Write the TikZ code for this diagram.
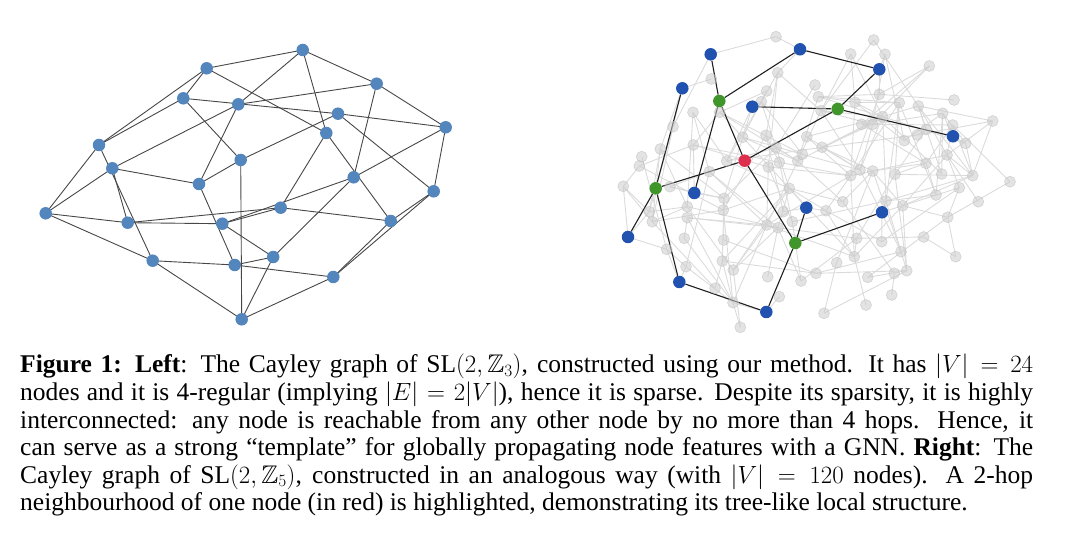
\documentclass[tikz,border=0pt]{standalone}
\usepackage{amsmath,amssymb}
\usepackage{fontspec}
\setmainfont{Liberation Serif}
\usetikzlibrary{backgrounds}

\definecolor{lblue}{RGB}{84,134,190}
\definecolor{hopblue}{RGB}{33,82,176}
\definecolor{hopgreen}{RGB}{64,150,42}
\definecolor{hopred}{RGB}{222,48,78}

\begin{document}
\begin{tikzpicture}[x=1pt,y=-1pt,
  lnode/.style={circle,fill=lblue,inner sep=0pt,minimum size=12.5pt},
  ledge/.style={black!72,line width=0.9pt},
  gnode/.style={circle,fill=black!20,fill opacity=0.55,draw=black!25,draw opacity=0.6,line width=0.6pt,inner sep=0pt,minimum size=11pt},
  gedge/.style={black!14,line width=0.9pt},
  hnode/.style={circle,fill=#1,inner sep=0pt,minimum size=12.5pt},
  hedge/.style={black!88,line width=1.1pt}]
\useasboundingbox (0,0) rectangle (1080,540);

% left: Cayley graph of SL(2,Z_3)
\node[lnode] (A) at (206.7,68.3) {};
\node[lnode] (B) at (183.3,98.3) {};
\node[lnode] (C) at (238.3,104.3) {};
\node[lnode] (D) at (99,145) {};
\node[lnode] (E) at (240.7,160) {};
\node[lnode] (F) at (112.3,168.3) {};
\node[lnode] (G) at (199,184) {};
\node[lnode] (H) at (45.7,213.3) {};
\node[lnode] (I) at (127.7,222.7) {};
\node[lnode] (J) at (222.3,223.7) {};
\node[lnode] (K) at (280.7,207.7) {};
\node[lnode] (L) at (152.7,260.7) {};
\node[lnode] (M) at (234.7,265) {};
\node[lnode] (N) at (273.2,257) {};
\node[lnode] (O) at (241.7,319.3) {};
\node[lnode] (P) at (302.7,50) {};
\node[lnode] (Q) at (376.7,83.7) {};
\node[lnode] (R) at (338,113.7) {};
\node[lnode] (S) at (445.7,127.3) {};
\node[lnode] (T) at (326.3,133) {};
\node[lnode] (U) at (353.7,177.3) {};
\node[lnode] (V) at (433.7,191.3) {};
\node[lnode] (W) at (390.7,221) {};
\node[lnode] (X) at (333.3,277) {};
\begin{scope}[on background layer]
\foreach \a/\b in {A/P,A/B,A/D,A/T,B/D,B/E,B/R,C/P,C/Q,C/G,C/F,D/H,D/L,
  E/R,E/G,E/O,F/H,F/G,F/I,G/M,H/I,H/L,I/J,I/K,J/K,J/N,J/U,K/T,K/W,
  L/M,L/O,M/N,M/X,N/O,N/U,O/X,P/Q,P/T,Q/S,Q/U,R/S,R/V,S/V,S/U,T/W,
  V/W,V/X,W/X}
  \draw[ledge] (\a.center) -- (\b.center);
\end{scope}

% right: SL(2,Z_5), 2-hop neighbourhood
\foreach \x/\y [count=\k] in {776/36.7,711.3/79,777.7/72.7,766.7/91,761.3/101.7,815/85,818.3/96.7,693/112.3,719.7/112.3,673/126.7,
  742.7/137.3,766/135.3,693.3/145,660.3/149,641.7/156.7,639.3/166,726.7/161,709.3/171.7,768.3/167,779.3/162.3,
  797.7/161,802.3/154.3,806.7/136.7,623.3/186.3,670/186.7,789.3/188.3,724/198.3,687.3/206.7,649.3/211.7,652.3/221.7,
  687.3/217.7,723.3/210,783.3/211.7,792.3/221.7,766.7/225,778/227.7,684.3/238.3,723.7/240,666.7/249.3,686/266.7,
  722.3/261,733.3/270,767.7/276.7,801/281,816/273.3,715/288.3,779.3/296.7,733/302.7,740.3/327.3,873.7/40,
  850.7/54,885/54.3,929.3/66,879.3/94.3,899.3/102.7,918.3/106,954/100,855/102.3,942.7/113.3,882.7/116.7,
  861.7/124.3,872.7/124.3,992.7/121,952.7/125,822/147.3,904.3/140.7,917.3/135,926/129.5,965.7/143.3,947/155,
  926/163.3,860/170,850.7/175.7,872.7/171,895/174.3,941.7/174,972.7/175.7,1010/181.7,959.3/187.7,936/195,
  842.7/201.7,826/210.7,886/201,902.7/205.7,978.3/201.7,947.7/217.3,856.7/238.3,881.7/241.7,923.7/237,901/251.7,
  854.3/256.7,955.7/256.7,836.7/262.7,867.7/277.3,894.3/273.3,906.7/270.7,891.7/295,866/305,824/313.3,821/110.7,
  776/147.7}{
  \node[gnode] (g\k) at (\x,\y) {};
  \expandafter\xdef\csname gx\k\endcsname{\x}
  \expandafter\xdef\csname gy\k\endcsname{\y}
}
\node[hnode=hopred]   (root) at (744.7,160.7) {};
\node[hnode=hopgreen] (n1) at (719.3,101) {};
\node[hnode=hopgreen] (n2) at (655.7,188.3) {};
\node[hnode=hopgreen] (n3) at (795.3,243) {};
\node[hnode=hopgreen] (n4) at (837.7,109) {};
\node[hnode=hopblue] (s1) at (710.7,54.3) {};
\node[hnode=hopblue] (s2) at (800,49.3) {};
\node[hnode=hopblue] (s3) at (682.3,88.3) {};
\node[hnode=hopblue] (s4) at (752.3,106.7) {};
\node[hnode=hopblue] (s5) at (694.3,193) {};
\node[hnode=hopblue] (s6) at (628,237) {};
\node[hnode=hopblue] (s7) at (679.3,282) {};
\node[hnode=hopblue] (s8) at (766.3,312) {};
\node[hnode=hopblue] (s9) at (806.3,207.7) {};
\node[hnode=hopblue] (s10) at (879.3,69.3) {};
\node[hnode=hopblue] (s11) at (953,136.3) {};
\node[hnode=hopblue] (s12) at (882,212.3) {};
\begin{scope}[on background layer]
\foreach \i in {1,...,100}{
  \pgfmathtruncatemacro\js{\i+1}
  \foreach \j in {\js,...,101}{
    \pgfmathtruncatemacro\h{mod(mod(\i*\j,61)*(\i+\j)+\i+2*\j,7)}
    \ifnum\h=0
      \pgfmathsetmacro\dd{veclen(\csname gx\i\endcsname-\csname gx\j\endcsname,\csname gy\i\endcsname-\csname gy\j\endcsname)}
      \ifdim\dd pt<100pt \draw[gedge] (g\i.center) -- (g\j.center);\fi
    \fi
  }
}
\foreach \a/\b in {s1/g1,s1/g10,s2/g1,s2/g3,s3/g2,s3/g10,s3/g14,s4/g5,s4/g11,s4/g17,
  s5/g25,s5/g27,s5/g13,s6/g29,s6/g39,s6/g24,s7/g39,s7/g40,s8/g48,s8/g47,
  s9/g26,s9/g33,s9/g82,s10/g52,s10/g54,s11/g64,s11/g69,s11/g59,s12/g83,s12/g88,s12/g84}
  \draw[gedge] (\a.center) -- (\b.center);
\foreach \a/\b in {root/n1,root/n2,root/n3,root/n4,n1/s1,n1/s2,n1/s5,n2/s3,n2/s6,n2/s7,
  n3/s9,n3/s12,n3/s8,n4/s10,n4/s4,n4/s11,s2/s10,s7/s8}
  \draw[hedge] (\a) -- (\b);
\end{scope}

\node[anchor=north west,inner sep=0pt,text width=1013pt,align=justify,
  font=\fontsize{25.5}{27.6}\selectfont] (caption) at (20,354) {%
\textbf{Figure 1: Left}: The Cayley graph of $\mathrm{SL}(2,\mathbb{Z}_3)$, constructed using our method. It has $|V|=24$\linebreak
nodes and it is 4-regular (implying $|E|=2|V|$), hence it is sparse. Despite its sparsity, it is highly\linebreak
interconnected: any node is reachable from any other node by no more than 4 hops. Hence, it\linebreak
can serve as a strong ``template'' for globally propagating node features with a GNN. \textbf{Right}: The\linebreak
Cayley graph of $\mathrm{SL}(2,\mathbb{Z}_5)$, constructed in an analogous way (with $|V|=120$ nodes). A 2-hop\linebreak
neighbourhood of one node (in red) is highlighted, demonstrating its tree-like local structure.};
\end{tikzpicture}
\end{document}
